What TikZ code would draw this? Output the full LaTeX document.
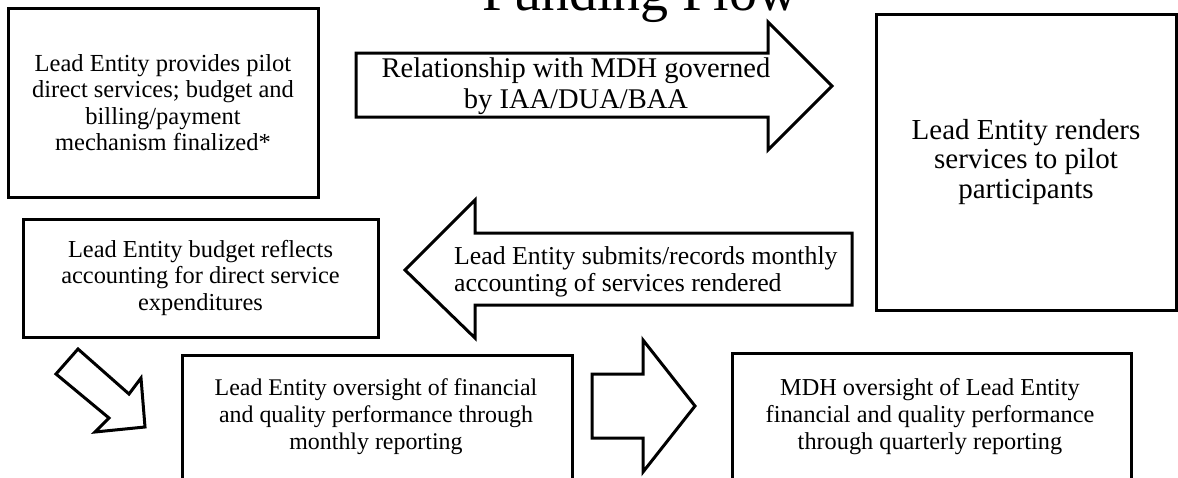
\documentclass[tikz,border=0pt]{standalone}
\usepackage{fontspec}
\setmainfont{Liberation Serif}
\begin{document}
\begin{tikzpicture}[x=1pt,y=-1pt,
  box/.style={draw, line width=3pt, inner sep=0pt, align=center},
  blockarrow/.style={draw, line width=3pt, line join=miter, fill=white},
  txt/.style={inner sep=0pt, align=center}]
\useasboundingbox (0,0) rectangle (1178,477);

% title (cut at top)
\node[anchor=base, inner sep=0pt, font=\fontsize{56}{60}\selectfont] (title) at (640,10) {Funding Flow};

% top-left box
\node[box, minimum width=310pt, minimum height=189pt, font=\fontsize{24.5}{26.5}\selectfont] (b1) at (163,102.5)
  {Lead Entity provides pilot\\direct services; budget and\\billing/payment\\mechanism finalized*};

% right box
\node[box, minimum width=300pt, minimum height=296pt, font=\fontsize{29}{29.5}\selectfont] (b2) at (1026,162)
  {Lead Entity renders\\services to pilot\\participants};

% budget box
\node[box, minimum width=355pt, minimum height=118pt, font=\fontsize{24.4}{26.5}\selectfont] (b3) at (200.5,278)
  {Lead Entity budget reflects\\accounting for direct service\\expenditures};

% bottom boxes (cut at bottom)
\node[box, minimum width=390pt, minimum height=145pt] (b4) at (377,427.5) {};
\node[txt, font=\fontsize{23.9}{27}\selectfont] (b4t) at (376,416.5)
  {Lead Entity oversight of financial\\and quality performance through\\monthly reporting};
\node[box, minimum width=399pt, minimum height=147pt] (b5) at (931.5,426.5) {};
\node[txt, font=\fontsize{24.3}{27}\selectfont] (b5t) at (930,416.5)
  {MDH oversight of Lead Entity\\financial and quality performance\\through quarterly reporting};

% top block arrow b1 -> b2
\draw[blockarrow] (356,53) -- (768,53) -- (768,22) -- (832,86) -- (768,150) -- (768,117) -- (356,117) -- cycle;
\node[txt, font=\fontsize{28.5}{31}\selectfont] (a1) at (576,86) {Relationship with MDH governed\\by IAA/DUA/BAA};

% left block arrow b2 -> b3
\draw[blockarrow] (405,270) -- (475,200) -- (475,233) -- (852,233) -- (852,305) -- (475,305) -- (475,338) -- cycle;
\node[txt, align=left, anchor=west, font=\fontsize{25.8}{27}\selectfont] (a2) at (454,271.5)
  {Lead Entity submits/records monthly\\accounting of services rendered};

% diagonal block arrow b3 -> b4
\draw[blockarrow] (78,349) -- (129,394) -- (141,378) -- (145,427) -- (95,432) -- (109,418) -- (56,374) -- cycle;

% bottom block arrow b4 -> b5
\draw[blockarrow] (592,374) -- (643,374) -- (643,340) -- (695,406) -- (643,472) -- (643,438) -- (592,438) -- cycle;
\end{tikzpicture}
\end{document}
